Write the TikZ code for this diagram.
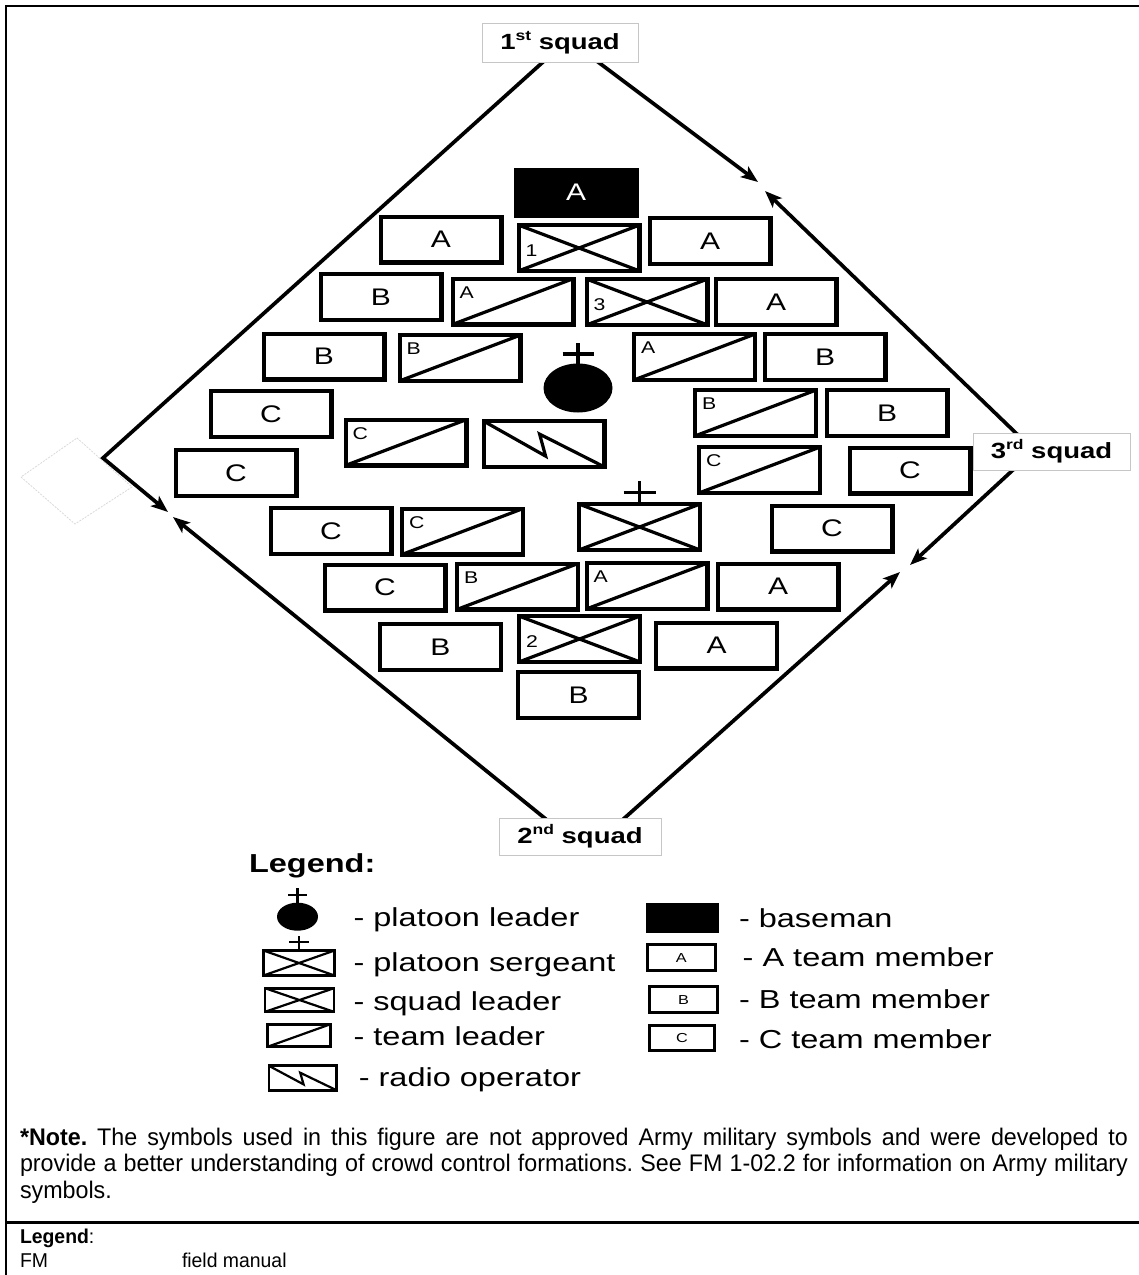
\documentclass[tikz,border=0pt]{standalone}
\usepackage{fontspec}
\setmainfont{Liberation Sans}
\newfontfamily\dfont[FakeStretch=1.25]{Liberation Sans}
\newfontfamily\nfont[FakeStretch=0.97]{Liberation Sans}
\usetikzlibrary{arrows.meta,shapes.geometric}
\newcommand\setpt[1]{\fontsize{#1}{#1}\selectfont}
\newcommand\ordinal[2]{#1\raisebox{0.4em}{\setpt{14}#2}}

\begin{document}
\frenchspacing
\begin{tikzpicture}[x=1pt,y=-1pt,
  every node/.style={inner sep=0pt, outer sep=0pt},
  % formation members
  mem/.style={draw, line width=4.2pt, minimum width=120.8pt, minimum height=45.8pt, font=\dfont\setpt{24}},
  basebox/.style={mem, fill=black, text=white},
  tldr/.style={mem, path picture={\draw[line width=3.2pt] (path picture bounding box.south west) -- (path picture bounding box.north east);}},
  sldr/.style={mem, path picture={\draw[line width=3.2pt] (path picture bounding box.south west) -- (path picture bounding box.north east) (path picture bounding box.north west) -- (path picture bounding box.south east);}},
  radio/.style={mem, path picture={\draw[line width=3.2pt, line join=miter] (path picture bounding box.north west) -- ++(62,35) -- ++(-6,-22) -- (path picture bounding box.south east);}},
  cornerlab/.style={anchor=north west, font=\dfont\setpt{17}, xshift=7pt, yshift=-8pt},
  slnum/.style={anchor=west, font=\dfont\setpt{17}, xshift=7pt, yshift=-3pt},
  plusline/.style={line width=3.6pt},
  % squad labels and movement arrows
  sq/.style={draw=gray!45, line width=0.9pt, fill=white, font=\dfont\bfseries\setpt{22}},
  mv/.style={line width=3.7pt, -{Stealth[length=17pt,width=13pt,inset=4pt]}},
  % legend symbols
  lbox/.style={draw, line width=2.8pt},
  ltl/.style={lbox, path picture={\draw[line width=2.2pt] (path picture bounding box.south west) -- (path picture bounding box.north east);}},
  lsl/.style={lbox, path picture={\draw[line width=2.2pt] (path picture bounding box.south west) -- (path picture bounding box.north east) (path picture bounding box.north west) -- (path picture bounding box.south east);}},
  lro/.style={lbox, path picture={\draw[line width=2.2pt] (path picture bounding box.north west) -- ++(34.7,18.6) -- ++(-3.4,-11.7) -- (path picture bounding box.south east);}},
  ltext/.style={anchor=base west, font=\dfont\setpt{26}},
  note/.style={anchor=base west, font=\nfont\setpt{24}},
  foot/.style={anchor=base west, font=\nfont\setpt{20}}
]
\useasboundingbox (0,0) rectangle (1139,1275);

% frame
\draw[line width=2.5pt] (6.2,1275) -- (6.2,6.2) -- (1139,6.2);
\draw[line width=2.6pt] (6.2,1222.7) -- (1139,1222.7);

% faint outline on the left
\draw[gray!30, line width=0.8pt, dash pattern=on 2pt off 1.2pt] (77,438) -- (132,487) -- (75,524) -- (21,477) -- cycle;

% corners of the formation
\coordinate (tv) at (568,39.5);
\coordinate (lv) at (103,458);
\coordinate (rv) at (1034,450.5);
\coordinate (bv) at (586.5,852);
\coordinate (t1) at (168,512);
\coordinate (t2) at (758,182);
\coordinate (t3) at (765,191);
\coordinate (t4) at (910,565);
\coordinate (t5) at (900,572);
\coordinate (t6) at (173,517);

\draw[mv, line join=miter] (tv) -- (lv) -- (t1);
\draw[mv] (tv) -- (t2);
\draw[mv] (rv) -- (t3);
\draw[mv] (rv) -- (t4);
\draw[mv] (bv) -- (t5);
\draw[mv] (bv) -- (t6);

\node[sq, minimum width=156pt, minimum height=39pt] (sq1) at (560,43) {\ordinal{1}{st} squad};
\node[sq, minimum width=157pt, minimum height=37pt] (sq3) at (1051.5,451.5) {\ordinal{3}{rd} squad};
\node[sq, minimum width=162pt, minimum height=37pt] (sq2) at (580,836.5) {\ordinal{2}{nd} squad};

% 1st squad
\node[basebox] (bm) at (576,192.5) {A};
\node[mem] (a11) at (441,239.5) {A};
\node[sldr, label={[slnum]west:1}] (sl1) at (579,248) {};
\node[mem] (a12) at (710,241) {A};
\node[mem] (b11) at (381,297) {B};
\node[tldr, label={[cornerlab]north west:A}] (tla1) at (513,301.5) {};
\node[mem] (b12) at (324,356.5) {B};
\node[tldr, label={[cornerlab]north west:B}] (tlb1) at (460,358) {};
\node[mem] (c11) at (271,414) {C};
\node[tldr, label={[cornerlab]north west:C}] (tlc1) at (406,442.5) {};
\node[mem] (c12) at (236,473) {C};

% 3rd squad
\node[sldr, label={[slnum]west:3}] (sl3) at (647,302) {};
\node[mem] (a31) at (776,302) {A};
\node[tldr, label={[cornerlab]north west:A}] (tla3) at (694.5,357) {};
\node[mem] (b31) at (825,357) {B};
\node[tldr, label={[cornerlab]north west:B}] (tlb3) at (755.5,413) {};
\node[mem] (b32) at (887,413) {B};
\node[tldr, label={[cornerlab]north west:C}] (tlc3) at (759.5,470) {};
\node[mem] (c31) at (910,470.5) {C};
\node[mem] (c32) at (832,528.5) {C};

% platoon headquarters
\node[ellipse, fill=black, minimum width=69pt, minimum height=49pt] (pl) at (578,388) {};
\draw[plusline] (pl.north) -- ++(0,-21) ++(-15.5,11.5) -- ++(31,0);
\node[radio] (ro) at (544,444) {};
\node[sldr] (psg) at (639.5,527) {};
\draw[plusline] (psg.north) -- ++(0,-23) ++(-16,11.2) -- ++(32,0);

% 2nd squad
\node[mem] (c21) at (331,531) {C};
\node[tldr, label={[cornerlab]north west:C}] (tlc2) at (462.5,531.5) {};
\node[mem] (c22) at (385,587.5) {C};
\node[tldr, label={[cornerlab]north west:B}] (tlb2) at (517.5,586.5) {};
\node[tldr, label={[cornerlab]north west:A}] (tla2) at (647,586) {};
\node[mem] (a21) at (778,586.5) {A};
\node[mem] (b21) at (440.5,647) {B};
\node[sldr, label={[slnum]west:2}] (sl2) at (579.5,639) {};
\node[mem] (a22) at (716.5,645.5) {A};
\node[mem] (b22) at (578.5,695) {B};

% legend
\node[anchor=base west, font=\dfont\bfseries\setpt{26}] (lg) at (249,872) {Legend:};

\node[ellipse, fill=black, minimum width=41pt, minimum height=28pt] (lpl) at (297.5,916.7) {};
\draw[line width=2.4pt] (lpl.north) -- ++(0,-15) ++(-9.5,7.5) -- ++(19,0);
\node[ltext] (lplt) at (353.6,926) {- platoon leader};

\node[lsl, minimum width=71pt, minimum height=25pt] (lpsg) at (299,963) {};
\draw[line width=2.4pt] (lpsg.north) -- ++(0,-15) ++(-10,6.5) -- ++(20,0);
\node[ltext] (lpsgt) at (353.6,971.7) {- platoon sergeant};

\node[lsl, minimum width=69pt, minimum height=23.6pt] (lslb) at (299.5,1000) {};
\node[ltext] (lslt) at (353.6,1010.7) {- squad leader};

\node[ltl, minimum width=63pt, minimum height=22.6pt] (ltlb) at (299,1035.5) {};
\node[ltext] (ltlt) at (353.6,1045) {- team leader};

\node[lro, minimum width=67.6pt, minimum height=24.4pt] (lrob) at (302.7,1078) {};
\node[ltext] (lrot) at (358.8,1086.7) {- radio operator};

\node[fill=black, minimum width=73pt, minimum height=30.6pt] (lbm) at (682.5,918) {};
\node[ltext] (lbmt) at (739,927.3) {- baseman};

\node[lbox, minimum width=68.2pt, minimum height=26pt, font=\dfont\setpt{13}] (la) at (681.3,957.8) {A};
\node[ltext] (lat) at (742.7,966.7) {- A team member};

\node[lbox, minimum width=68.2pt, minimum height=26.3pt, font=\dfont\setpt{13}] (lb) at (683.5,999.7) {B};
\node[ltext] (lbt) at (739,1008.3) {- B team member};

\node[lbox, minimum width=65.2pt, minimum height=24.7pt, font=\dfont\setpt{13}] (lc) at (682,1037.8) {C};
\node[ltext] (lct) at (739,1048.3) {- C team member};

% note
\node[note] (n1) at (20,1145) {\hbox to 1108pt{\textbf{*Note.} The symbols used in this figure are not approved Army military symbols and were developed to}};
\node[note] (n2) at (20,1171.5) {\hbox to 1108pt{provide a better understanding of crowd control formations. See FM 1-02.2 for information on Army military}};
\node[note] (n3) at (20,1198) {symbols.};

% abbreviations
\node[foot] (f1) at (20,1243) {\textbf{Legend}:};
\node[foot] (f2) at (20,1267) {FM};
\node[foot] (f3) at (182,1267) {field manual};
\end{tikzpicture}
\end{document}
